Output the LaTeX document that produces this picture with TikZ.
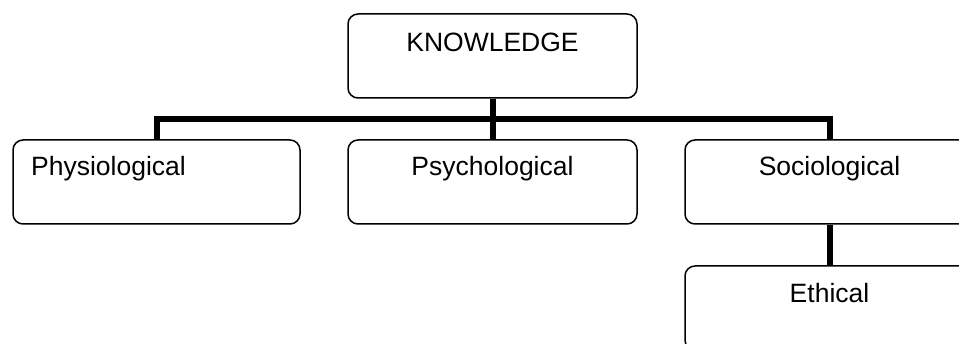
\documentclass[tikz,border=0pt]{standalone}
\usepackage{fontspec}
\setmainfont{Liberation Sans}
\begin{document}
\begin{tikzpicture}[x=1pt,y=-1pt,
  box/.style={draw=black,line width=1.5pt,rounded corners=10pt,minimum height=84pt,inner sep=0pt},
  lbl/.style={inner sep=0pt,anchor=base,font=\fontsize{26.5}{32}\selectfont},
  conn/.style={draw=black,line width=6pt,line join=miter}]
\useasboundingbox (0,0) rectangle (959,344);
\clip (0,0) rectangle (959,344);
\node[box,minimum width=289pt] (k) at (492.5,56) {};
\node[box,minimum width=287pt] (phys) at (156.5,182) {};
\node[box,minimum width=289pt] (psych) at (492.5,182) {};
\node[box,minimum width=289pt] (soc) at (829.5,182) {};
\node[box,minimum width=289pt] (eth) at (829.5,308) {};
\node[lbl] (kt) at (492.5,52) {KNOWLEDGE};
\node[lbl,anchor=base west] (physt) at (31,176) {Physiological};
\node[lbl] (psycht) at (492.5,176) {Psychological};
\node[lbl] (soct) at (829.5,176) {Sociological};
\node[lbl] (etht) at (829.5,303) {Ethical};
\coordinate (bus) at (0,119);
\draw[conn] (k.south) -- (k.south |- bus);
\draw[conn] (phys.north) -- (phys.north |- bus) -- (soc.north |- bus) -- (soc.north);
\draw[conn] (psych.north) -- (psych.north |- bus);
\draw[conn] (soc.south) -- (eth.north);
\end{tikzpicture}
\end{document}
